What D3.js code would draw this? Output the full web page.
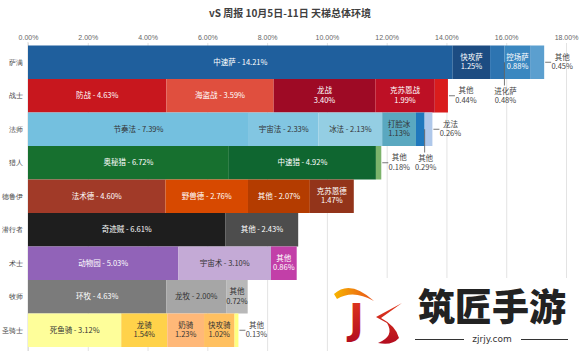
<!DOCTYPE html>
<html>
<head>
<meta charset="utf-8">
<script src="https://cdn.jsdelivr.net/npm/d3@7"></script>
<style>
  body { margin: 0; background: #fff; }
  svg { font-family: "Noto Sans CJK SC", "Noto Sans", sans-serif; }
</style>
</head>
<body>
<svg id="chart" width="580" height="351"></svg>
<script>
// === data ===
const classNames = ["萨满", "战士", "法师", "猎人", "德鲁伊", "潜行者", "术士", "牧师", "圣骑士"];

const deckNames = [
  ["中速萨", "快攻萨", "进化萨", "控场萨", "其他"],
  ["防战", "海盗战", "龙战", "克苏恩战", "其他"],
  ["节奏法", "宇宙法", "冰法", "打脸冰", "其他", "龙法"],
  ["奥秘猎", "中速猎", "其他"],
  ["法术德", "野兽德", "其他", "克苏恩德"],
  ["奇迹贼", "其他"],
  ["动物园", "宇宙术", "其他"],
  ["环牧", "龙牧", "其他"],
  ["死鱼骑", "龙骑", "奶骑", "快攻骑", "其他"]
];

const deckShares = [
  [14.21, 1.25, 0.48, 0.88, 0.45],
  [4.63, 3.59, 3.40, 1.99, 0.44],
  [7.39, 2.33, 2.13, 1.13, 0.29, 0.26],
  [6.72, 4.92, 0.18],
  [4.60, 2.76, 2.07, 1.47],
  [6.61, 2.43],
  [5.03, 3.10, 0.86],
  [4.63, 2.00, 0.72],
  [3.12, 1.54, 1.23, 1.02, 0.13]
];

const deckColors = [
  ["#1f5f9d", "#1c4c82", "#2d74b1", "#3a87c0", "#5b9fcf"],
  ["#c8171e", "#e04f3e", "#9e0a25", "#bd1025", "#d91c1c"],
  ["#74c0df", "#82c6e2", "#94cee3", "#5aa8c0", "#1f78bd", "#afc8ea"],
  ["#17702f", "#0f6630", "#7cb36b"],
  ["#a13a28", "#d74900", "#b43c00", "#93341a"],
  ["#1e1e1e", "#4d4d4d"],
  ["#9163b8", "#c4aad6", "#c23fa8"],
  ["#7b7b7b", "#a6a6a6", "#b8b8b8"],
  ["#fefe9a", "#ffd24a", "#ffb878", "#ffc060", "#ffff80"]
];

const xTicks = [0, 2, 4, 6, 8, 10, 12, 14, 16, 18];
const titleText = "vS 周报 10月5日-11日 天梯总体环境";

// decks whose labels go on two lines even though they are wide
const forcedTwoLine = ["龙战"];

// === layout ===
const svg = d3.select("#chart");
const width = +svg.attr("width");
const height = +svg.attr("height");

const x = d3.scaleLinear().domain([0, 18]).range([28, 566]);
const y = d3.scaleBand().domain(classNames).range([45.5, 347]).padding(0);

const fmt = v => v.toFixed(2) + "%";
const textColor = c => {
  const r = d3.rgb(c);
  return (0.299 * r.r + 0.587 * r.g + 0.114 * r.b) > 140 ? "#333" : "#fff";
};

// === grid + top axis ===
const xAxis = svg.append("g")
  .attr("transform", "translate(0,43)")
  .call(d3.axisTop(x).tickValues(xTicks).tickSize(-(height - 43)).tickPadding(3).tickFormat(fmt));
xAxis.select(".domain").remove();
xAxis.selectAll("line").attr("stroke", "#e3e3e3");
xAxis.selectAll("text").attr("fill", "#666").attr("font-size", "7px");

// === left axis ===
const yAxis = svg.append("g")
  .attr("transform", "translate(28,0)")
  .call(d3.axisLeft(y).tickSize(0).tickPadding(5));
yAxis.select(".domain").attr("stroke", "#d9d9d9").attr("d", "M0,42V351");
yAxis.selectAll("text").attr("fill", "#444").attr("font-size", "7px");

// === bars ===
const segs = [];
classNames.forEach((cls, i) => {
  const ends = d3.cumsum(deckShares[i]);
  deckShares[i].forEach((v, j) => {
    segs.push({
      cls, name: deckNames[i][j], value: v, color: deckColors[i][j],
      start: ends[j] - v, end: ends[j], last: j === deckShares[i].length - 1
    });
  });
});

const bars = svg.append("g");
bars.selectAll("rect")
  .data(segs)
  .enter()
  .append("rect")
  .attr("x", d => x(d.start))
  .attr("y", d => y(d.cls))
  .attr("width", d => x(d.end) - x(d.start))
  .attr("height", y.bandwidth())
  .attr("fill", d => d.color);

// === labels ===
const labels = svg.append("g").attr("font-size", "7.5px");
segs.forEach(d => {
  const cy = y(d.cls) + y.bandwidth() / 2;
  const cx = (x(d.start) + x(d.end)) / 2;
  if (d.value >= 2 && !forcedTwoLine.includes(d.name)) {
    labels.append("text")
      .attr("x", cx).attr("y", cy).attr("dy", "0.35em")
      .attr("text-anchor", "middle")
      .attr("fill", textColor(d.color))
      .text(`${d.name} - ${fmt(d.value)}`);
  } else if (d.value >= 0.7) {
    const t = labels.append("text")
      .attr("x", cx).attr("y", cy)
      .attr("text-anchor", "middle")
      .attr("fill", textColor(d.color));
    t.append("tspan").attr("x", cx).attr("dy", "-0.35em").text(d.name);
    t.append("tspan").attr("x", cx).attr("dy", "1.3em").text(fmt(d.value));
  } else if (d.last) {
    // label to the right with a short leader
    const ex = x(d.end);
    labels.append("line")
      .attr("x1", ex + 1).attr("x2", ex + 7)
      .attr("y1", cy).attr("y2", cy)
      .attr("stroke", "#555").attr("stroke-width", 0.8);
    const g = labels.append("g").attr("text-anchor", "middle").attr("fill", "#444");
    g.append("text").attr("x", ex + 18).attr("y", cy - 5).attr("dy", "0.35em").text(d.name);
    g.append("text").attr("x", ex + 18).attr("y", cy + 4.5).attr("dy", "0.35em").text(fmt(d.value));
  } else {
    // label below the bar
    const lx = x(d.end);
    const bottom = y(d.cls) + y.bandwidth();
    labels.append("line")
      .attr("x1", lx).attr("x2", lx)
      .attr("y1", cy).attr("y2", bottom + 6.5)
      .attr("stroke", "#555").attr("stroke-width", 0.8);
    const g = labels.append("g").attr("text-anchor", "middle").attr("fill", "#444");
    g.append("text").attr("x", lx + 1).attr("y", bottom + 12).attr("dy", "0.35em").text(d.name);
    g.append("text").attr("x", lx + 1).attr("y", bottom + 21.8).attr("dy", "0.35em").text(fmt(d.value));
  }
});

// === title ===
svg.append("text")
  .attr("x", width / 2)
  .attr("y", 13)
  .attr("dy", "0.35em")
  .attr("text-anchor", "middle")
  .attr("font-size", "10px")
  .attr("font-weight", "bold")
  .attr("fill", "#404040")
  .text(titleText);

// === watermark ===
const wm = svg.append("g");
wm.append("rect").attr("x", 330).attr("y", 278).attr("width", 250).attr("height", 73).attr("fill", "#fff");
const defs = svg.append("defs");
const grad = defs.append("linearGradient").attr("id", "swoosh").attr("x1", "0").attr("x2", "1").attr("y1", "0").attr("y2", "0");
grad.append("stop").attr("offset", "0").attr("stop-color", "#f7b500");
grad.append("stop").attr("offset", "1").attr("stop-color", "#e8501a");
const grad2 = defs.append("linearGradient").attr("id", "kred").attr("x1", "0").attr("x2", "0").attr("y1", "0").attr("y2", "1");
grad2.append("stop").attr("offset", "0").attr("stop-color", "#e23a1c");
grad2.append("stop").attr("offset", "1").attr("stop-color", "#b30d1f");
wm.append("path")
  .attr("d", "M334,294 Q350,279 374,301 Q353,289 337,299 Z")
  .attr("fill", "url(#swoosh)");
wm.append("text")
  .attr("x", 349).attr("y", 333)
  .attr("font-family", "DejaVu Sans, sans-serif")
  .attr("font-size", "40px").attr("font-weight", "bold")
  .attr("fill", "url(#kred)")
  .text("J");
wm.append("path")
  .attr("d", "M402,303 L381,318 Q396,326 399,338 Q392,346 378,343 Q395,336 387,323 L376,317 Z")
  .attr("fill", "url(#kred)");
wm.append("text")
  .attr("x", 492).attr("y", 308)
  .attr("dy", "0.35em")
  .attr("text-anchor", "middle")
  .attr("font-size", "37px").attr("font-weight", "900")
  .attr("fill", "#222")
  .text("筑匠手游");
wm.append("text")
  .attr("x", 492).attr("y", 339)
  .attr("dy", "0.35em")
  .attr("text-anchor", "middle")
  .attr("font-family", "DejaVu Sans, sans-serif")
  .attr("font-size", "9px")
  .attr("fill", "#333")
  .text("zjrjy.com");
wm.append("line").attr("x1", 415).attr("x2", 464).attr("y1", 339.5).attr("y2", 339.5).attr("stroke", "#333");
wm.append("line").attr("x1", 521).attr("x2", 568).attr("y1", 339.5).attr("y2", 339.5).attr("stroke", "#333");
</script>
</body>
</html>
